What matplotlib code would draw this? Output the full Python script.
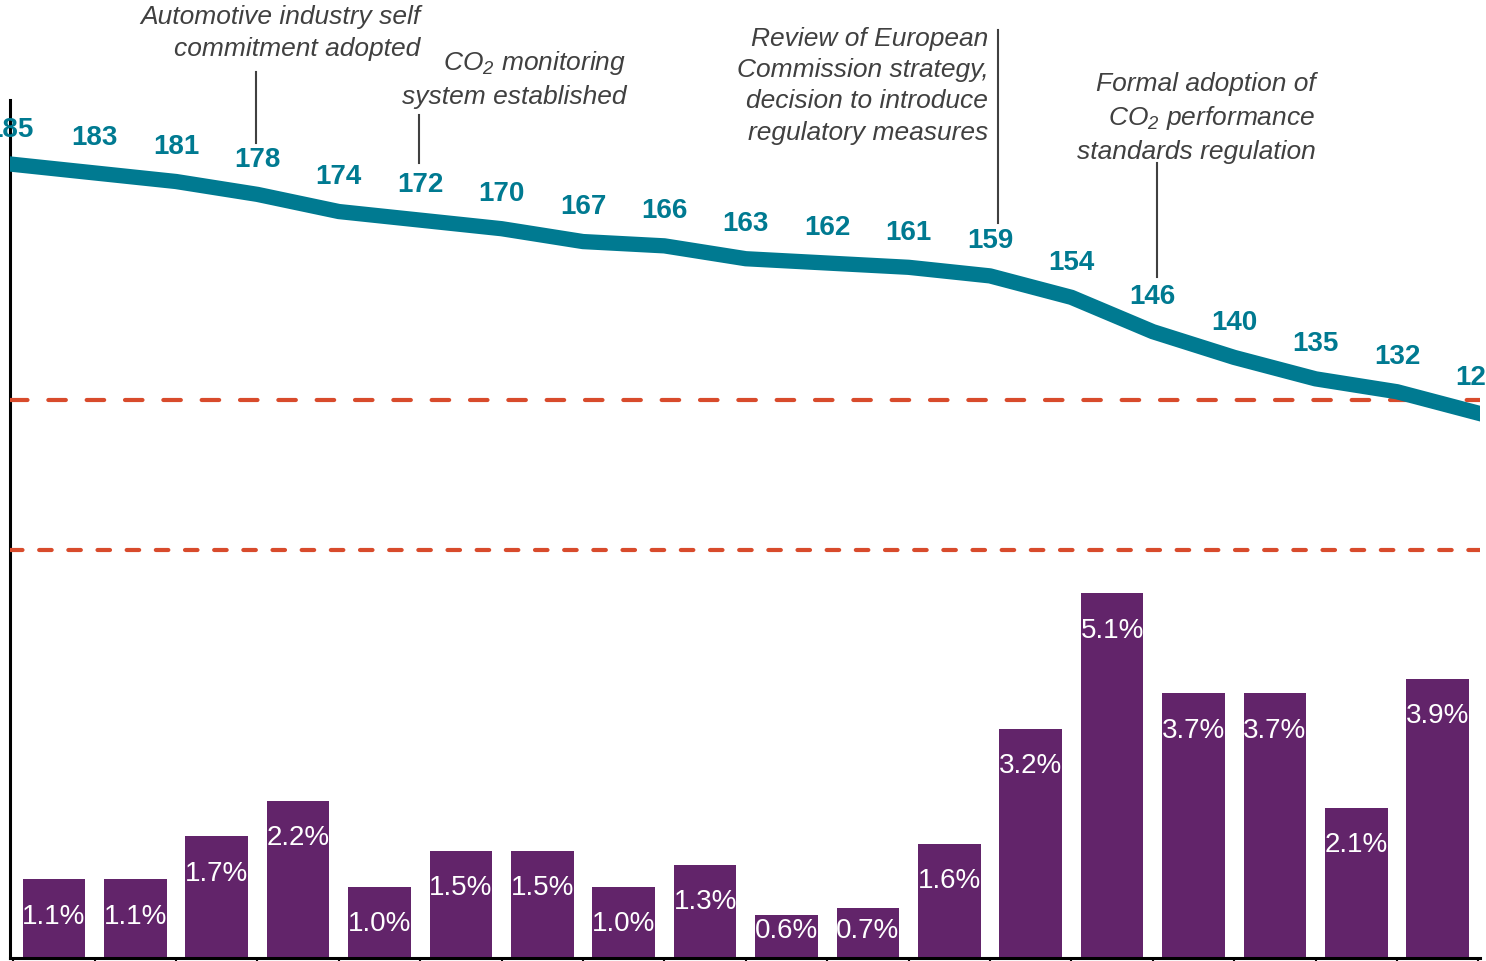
import numpy as np
import matplotlib.pyplot as plt

plt.rcParams['font.family'] = ['Liberation Sans', 'DejaVu Sans']
plt.rcParams['mathtext.default'] = 'regular'

# Datos: emisiones medias de CO2 de turismos nuevos (g/km) y reduccion anual (%)
anios = list(range(1995, 2014))
co2 = [185, 183, 181, 178, 174, 172, 170, 167, 166, 163, 162, 161, 159, 154, 146, 140, 135, 132, 127]
reduccion = [1.1, 1.1, 1.7, 2.2, 1.0, 1.5, 1.5, 1.0, 1.3, 0.6, 0.7, 1.6, 3.2, 5.1, 3.7, 3.7, 2.1, 3.9]
objetivos = [130, 95]

hitos = [
    "Automotive industry self\ncommitment adopted",
    "CO$_2$ monitoring\nsystem established",
    "Review of European\nCommission strategy,\ndecision to introduce\nregulatory measures",
    "Formal adoption of\nCO$_2$ performance\nstandards regulation",
]
# posicion del texto (x derecha, y centro) y de la linea guia (x, y0, y1)
pos_hitos = [
    (5.0, 215.6, 2.98, 206.5, 190.0),
    (7.53, 204.9, 4.99, 196.5, 185.3),
    (11.98, 203.3, 12.1, 216.3, 171.3),
    (16.0, 195.8, 14.05, 185.3, 158.7),
]

TEAL = '#007A91'
MORADO = '#62246A'
ROJO = '#D84B2C'
GRIS = '#404040'

fig = plt.figure(figsize=(14.86, 9.61), dpi=100)
ax = fig.add_axes([10 / 1486, 3 / 961, 1470 / 1486, 858 / 961])
ax2 = ax.twinx()

x = np.arange(len(co2))
xb = np.arange(len(reduccion)) + 0.5

# barras de reduccion anual
ax.bar(xb, reduccion, width=0.77, color=MORADO, zorder=2)
for xi, v in zip(xb, reduccion):
    ax.text(xi, max(v - 0.52, 0.38), f"{v:.1f}%", ha='center', va='center',
            color='white', fontsize=20, zorder=3)
ax.set_ylim(0, 12)
ax.set_xlim(-0.04, 18.02)

# linea de emisiones
ax2.plot(x, co2, color=TEAL, lw=11, solid_joinstyle='round', zorder=3)
for xi, v in zip(x, co2):
    ax2.annotate(str(v), (xi, v), xytext=(-2 if xi == 0 else 0, 25),
                 textcoords='offset points', ha='center', va='center',
                 color=TEAL, fontsize=20, fontweight='bold')

# objetivos
ax2.axhline(objetivos[0], color=ROJO, lw=3, dashes=(4.2, 5.0),
            dash_capstyle='round', zorder=2)
ax2.axhline(objetivos[1], color=ROJO, lw=3, dashes=(3.0, 4.0),
            dash_capstyle='round', zorder=2)
ax2.set_ylim(0, 200)
ax2.set_xlim(-0.04, 18.02)

for texto, (tx, ty, lx, ly0, ly1) in zip(hitos, pos_hitos):
    ax2.text(tx, ty, texto, ha='right', va='center', multialignment='right',
             fontsize=19, style='italic', color=GRIS, linespacing=1.38)
    ax2.plot([lx, lx], [ly0, ly1], color=GRIS, lw=1.5, clip_on=False)

for a in (ax, ax2):
    for s in ('top', 'right'):
        a.spines[s].set_visible(False)
ax2.spines['left'].set_visible(False)
ax2.spines['bottom'].set_visible(False)
ax.spines['left'].set_linewidth(2.2)
ax.spines['bottom'].set_linewidth(2.2)
ax.set_xticks(np.arange(len(co2)))
ax.set_xticklabels([])
ax.tick_params(axis='x', direction='out', length=3, width=1.5)
ax.set_yticks([])
ax2.set_yticks([])

fig.savefig('out.png', dpi=100)
